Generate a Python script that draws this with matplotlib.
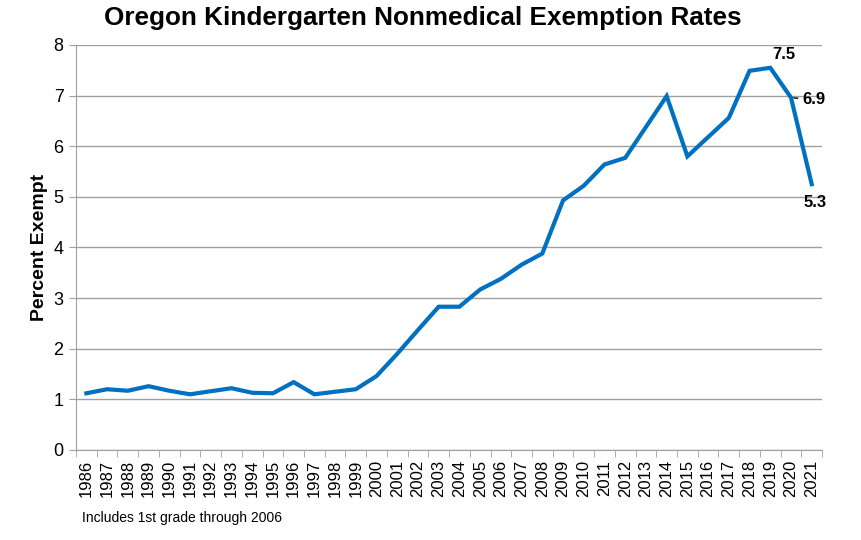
import matplotlib
matplotlib.use("Agg")
import matplotlib.pyplot as plt
import numpy as np

plt.rcParams['font.family'] = ['Liberation Sans', 'DejaVu Sans']

# data
years = [str(y) for y in range(1986, 2022)]
rates = [1.12, 1.2, 1.17, 1.26, 1.17, 1.1, 1.16, 1.22, 1.13, 1.12,
         1.34, 1.1, 1.15, 1.2, 1.46, 1.9, 2.37, 2.83, 2.83, 3.17,
         3.38, 3.66, 3.88, 4.93, 5.22, 5.64, 5.77, 6.38, 6.99, 5.8,
         6.18, 6.56, 7.49, 7.55, 6.96, 5.25]
labels = {"2019": "7.5", "2020": "6.9", "2021": "5.3"}

fig = plt.figure(figsize=(8.62, 5.4), dpi=100)
ax = fig.add_axes([0.0882, 0.1667, 0.8655, 0.75])

x = np.arange(len(years))
ax.plot(x, rates, color='#0070C0', linewidth=3.0, solid_joinstyle='miter')

ax.set_xlim(-0.5, len(years) - 0.5)
ax.set_ylim(0, 8)
ax.set_yticks(range(0, 9))
ax.yaxis.grid(True, color='#a0a0a0', linewidth=1.0)
ax.set_axisbelow(True)

ax.set_xticks(x)
ax.set_xticklabels(years, rotation=90, fontsize=12)
ax.set_xticks(np.arange(-0.5, len(years)), minor=True)
ax.tick_params(axis='x', which='major', length=0, pad=7)
ax.tick_params(axis='x', which='minor', length=5, color='#a0a0a0')
ax.tick_params(axis='y', length=5, color='#a0a0a0', labelsize=13, pad=4)

for s in ['top', 'right']:
    ax.spines[s].set_visible(False)
for s in ['left', 'bottom']:
    ax.spines[s].set_color('#a0a0a0')

ax.set_ylabel("Percent Exempt", fontsize=14, fontweight='bold', labelpad=4)
fig.text(0.491, 0.966, "Oregon Kindergarten Nonmedical Exemption Rates",
         fontsize=18.8, fontweight='bold', ha='center', va='center')

# data labels
i = years.index("2019")
ax.annotate(labels["2019"], (i, rates[i]), xytext=(14, 13), textcoords='offset pixels',
            ha='center', va='center', fontsize=12, fontweight='bold')
i = years.index("2020")
ax.annotate(labels["2020"], (i, rates[i]), xytext=(11, -2), textcoords='offset pixels',
            ha='left', va='center', fontsize=12, fontweight='bold',
            arrowprops=dict(arrowstyle='-', color='black', lw=1, shrinkA=1, shrinkB=2))
i = years.index("2021")
ax.annotate(labels["2021"], (i, rates[i]), xytext=(3, -18), textcoords='offset pixels',
            ha='center', va='center', fontsize=12, fontweight='bold')

fig.text(0.095, 0.040, "Includes 1st grade through 2006", fontsize=10, va='center')

fig.savefig("out.png", dpi=100)
